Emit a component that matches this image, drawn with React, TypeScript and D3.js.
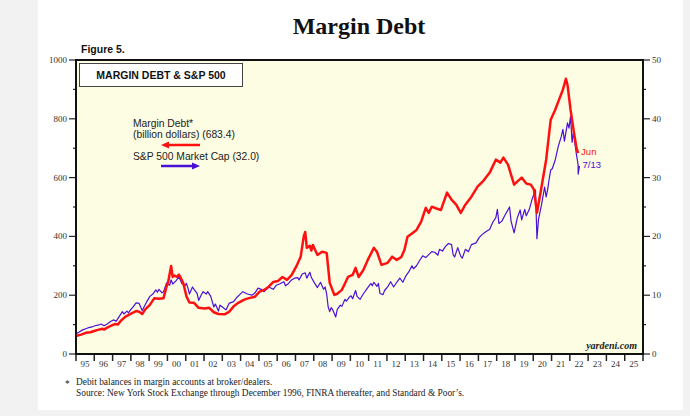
import { useEffect, useRef } from "react";
import * as d3 from "d3";

// Margin debt, billion dollars (left axis)
const marginDebt: [string, number][] = [
  ["1995-01", 62], ["1995-04", 66], ["1995-07", 72], ["1995-10", 74], ["1996-01", 79], ["1996-03", 82],
  ["1996-06", 86], ["1996-07", 83], ["1996-09", 90], ["1996-12", 97],
  ["1997-02", 102], ["1997-04", 100], ["1997-06", 113], ["1997-09", 127], ["1998-01", 138], ["1998-04", 146],
  ["1998-06", 144], ["1998-08", 136], ["1998-10", 152], ["1999-01", 167], ["1999-04", 190], ["1999-07", 188],
  ["1999-10", 190], ["1999-12", 230], ["2000-01", 244], ["2000-03", 299], ["2000-04", 262], ["2000-05", 267],
  ["2000-07", 262], ["2000-08", 270], ["2000-09", 262], ["2000-11", 240], ["2001-01", 196], ["2001-03", 175],
  ["2001-06", 174], ["2001-09", 157], ["2002-01", 155], ["2002-04", 157], ["2002-07", 142],
  ["2002-10", 136], ["2003-02", 135], ["2003-05", 143], ["2003-08", 162], ["2003-11", 174],
  ["2004-03", 185], ["2004-06", 190], ["2004-10", 195], ["2005-01", 212], ["2005-04", 218],
  ["2005-07", 229], ["2005-10", 245], ["2006-01", 248], ["2006-04", 262], ["2006-07", 252],
  ["2006-10", 268], ["2007-01", 297], ["2007-04", 331], ["2007-06", 400], ["2007-07", 415],
  ["2007-08", 361], ["2007-10", 368], ["2007-11", 352], ["2007-12", 371], ["2008-03", 337], ["2008-06", 348],
  ["2008-09", 344], ["2008-11", 242], ["2009-02", 201], ["2009-04", 205], ["2009-07", 218],
  ["2009-09", 240], ["2009-11", 262], ["2010-02", 269], ["2010-04", 293], ["2010-06", 262],
  ["2010-09", 285], ["2010-12", 320], ["2011-04", 361], ["2011-06", 348], ["2011-09", 303],
  ["2012-01", 310], ["2012-04", 331], ["2012-07", 320], ["2012-10", 330], ["2012-12", 354],
  ["2013-02", 399], ["2013-05", 410], ["2013-08", 422], ["2013-11", 450], ["2014-02", 497],
  ["2014-04", 480], ["2014-06", 501], ["2014-09", 495], ["2014-12", 490], ["2015-04", 549],
  ["2015-07", 525], ["2015-10", 508], ["2016-01", 480], ["2016-04", 508], ["2016-08", 535],
  ["2016-12", 569], ["2017-04", 590], ["2017-08", 617], ["2017-12", 661], ["2018-03", 651],
  ["2018-05", 668], ["2018-08", 644], ["2018-12", 576], ["2019-02", 586], ["2019-05", 600],
  ["2019-08", 580], ["2019-11", 576], ["2020-01", 559], ["2020-03", 480], ["2020-06", 569],
  ["2020-09", 661], ["2020-12", 797], ["2021-03", 831], ["2021-06", 872], ["2021-08", 899],
  ["2021-10", 936], ["2021-11", 916], ["2022-01", 831], ["2022-03", 763], ["2022-05", 700],
  ["2022-06", 683.4],
];

// S&P 500 market capitalization, trillion dollars (right axis)
const marketCap: [string, number][] = [
  ["1995-01", 3.5], ["1995-03", 3.8], ["1995-05", 4.1], ["1995-07", 4.3], ["1995-09", 4.5], ["1995-11", 4.6],
  ["1996-01", 4.8], ["1996-03", 4.9], ["1996-05", 5.1], ["1996-07", 4.8], ["1996-09", 5.1], ["1996-11", 5.5],
  ["1997-01", 5.8], ["1997-03", 5.6], ["1997-05", 6.4], ["1997-07", 7.2], ["1997-08", 6.8], ["1997-10", 7.3],
  ["1997-11", 7.0], ["1997-12", 7.4], ["1998-02", 8.0], ["1998-04", 8.7], ["1998-06", 8.6], ["1998-08", 7.4],
  ["1998-09", 7.9], ["1998-11", 8.9], ["1999-01", 9.8], ["1999-03", 10.2], ["1999-05", 10.9], ["1999-06", 10.5],
  ["1999-07", 11.0], ["1999-09", 10.4], ["1999-10", 10.6], ["1999-12", 12.1], ["2000-02", 11.7], ["2000-03", 12.6],
  ["2000-04", 11.9], ["2000-06", 12.4], ["2000-08", 13.1], ["2000-09", 12.6], ["2000-10", 12.0], ["2000-12", 11.6],
  ["2001-01", 12.0], ["2001-02", 11.2], ["2001-03", 10.2], ["2001-05", 11.4], ["2001-06", 11.0], ["2001-08", 10.3],
  ["2001-09", 9.1], ["2001-11", 10.2], ["2001-12", 10.6], ["2002-02", 10.2], ["2002-03", 10.6], ["2002-05", 9.8],
  ["2002-07", 8.0], ["2002-08", 8.5], ["2002-10", 7.3], ["2002-11", 8.3], ["2003-01", 7.9], ["2003-03", 7.5],
  ["2003-05", 8.6], ["2003-08", 8.9], ["2003-10", 9.6], ["2003-12", 10.1], ["2004-02", 10.6], ["2004-05", 10.2],
  ["2004-08", 10.0], ["2004-10", 10.4], ["2004-12", 11.2], ["2005-02", 11.0], ["2005-04", 10.6], ["2005-07", 11.4],
  ["2005-10", 11.0], ["2005-12", 11.7], ["2006-02", 11.9], ["2006-05", 12.3], ["2006-06", 11.6], ["2006-08", 12.0],
  ["2006-10", 12.6], ["2006-12", 12.9], ["2007-02", 13.0], ["2007-03", 12.6], ["2007-05", 13.6], ["2007-07", 13.8],
  ["2007-08", 12.9], ["2007-10", 13.9], ["2007-11", 13.0], ["2008-01", 12.1], ["2008-03", 11.3], ["2008-05", 12.2],
  ["2008-07", 11.0], ["2008-08", 11.4], ["2008-09", 10.2], ["2008-10", 8.0], ["2008-11", 7.2], ["2008-12", 7.9],
  ["2009-01", 7.5], ["2009-03", 6.3], ["2009-04", 7.6], ["2009-06", 8.3], ["2009-07", 8.1], ["2009-09", 9.3],
  ["2009-10", 9.0], ["2009-12", 9.7], ["2010-01", 9.9], ["2010-02", 9.4], ["2010-04", 10.8], ["2010-05", 9.8],
  ["2010-07", 9.3], ["2010-09", 10.2], ["2010-12", 11.3], ["2011-02", 12.0], ["2011-03", 11.6], ["2011-04", 12.2],
  ["2011-06", 11.5], ["2011-07", 12.0], ["2011-08", 10.3], ["2011-10", 10.1], ["2011-11", 10.8], ["2012-01", 11.4],
  ["2012-03", 12.3], ["2012-05", 11.4], ["2012-07", 12.2], ["2012-09", 12.9], ["2012-11", 12.2], ["2013-01", 13.3],
  ["2013-03", 14.0], ["2013-05", 15.0], ["2013-06", 14.5], ["2013-08", 15.0], ["2013-10", 15.9], ["2013-12", 16.7],
  ["2014-02", 16.4], ["2014-04", 16.9], ["2014-06", 17.4], ["2014-08", 17.3], ["2014-10", 16.8], ["2014-11", 17.8],
  ["2015-01", 17.5], ["2015-03", 18.3], ["2015-05", 18.8], ["2015-07", 18.6], ["2015-08", 16.9], ["2015-09", 16.5],
  ["2015-11", 18.1], ["2016-01", 16.6], ["2016-02", 16.3], ["2016-04", 17.8], ["2016-06", 17.4], ["2016-08", 18.6],
  ["2016-11", 18.9], ["2017-01", 19.8], ["2017-03", 20.3], ["2017-05", 20.7], ["2017-08", 21.2], ["2017-10", 22.4],
  ["2017-12", 23.2], ["2018-01", 24.6], ["2018-02", 22.2], ["2018-04", 22.6], ["2018-06", 23.6], ["2018-09", 25.0],
  ["2018-10", 22.6], ["2018-12", 20.6], ["2019-02", 23.1], ["2019-04", 24.5], ["2019-05", 22.8], ["2019-07", 24.6],
  ["2019-08", 23.5], ["2019-10", 24.6], ["2019-12", 26.5], ["2020-02", 27.9], ["2020-03", 19.6], ["2020-04", 22.9],
  ["2020-06", 25.4], ["2020-08", 28.4], ["2020-09", 26.7], ["2020-10", 28.0], ["2020-11", 29.8], ["2020-12", 31.3],
  ["2021-01", 31.5], ["2021-03", 33.0], ["2021-05", 35.3], ["2021-07", 37.0], ["2021-08", 38.2], ["2021-09", 36.2],
  ["2021-11", 39.3], ["2021-12", 38.4], ["2022-01", 40.4], ["2022-02", 36.0], ["2022-03", 37.8], ["2022-04", 35.6],
  ["2022-05", 33.8], ["2022-06", 32.2], ["2022-06-16", 30.6], ["2022-07-13", 32.0],
];

const leftTicks = [0, 200, 400, 600, 800, 1000];
const rightTicks = [0, 10, 20, 30, 40, 50];
const yearLabels = d3.range(1995, 2026);

const RED = "#ff1010";
const BLUE = "#4a10d8";

function parseDate(s: string): Date {
  const p = s.split("-").map(Number);
  return new Date(p[0], p[1] - 1, p[2] || 15);
}

function MarginChart() {
  const ref = useRef<HTMLDivElement>(null);

  useEffect(() => {
    const width = 690;
    const height = 416;
    const plot = { left: 76, right: 643, top: 60, bottom: 354 };

    const x = d3
      .scaleTime()
      .domain([new Date(1995, 0, 1), new Date(2026, 0, 1)])
      .range([plot.left, plot.right]);
    const yLeft = d3.scaleLinear([0, 1000], [plot.bottom, plot.top]);
    const yRight = d3.scaleLinear([0, 50], [plot.bottom, plot.top]);

    const serif = "'Liberation Serif', 'DejaVu Serif', serif";
    const sans = "'Liberation Sans', Arial, sans-serif";

    const svg = d3
      .select(ref.current)
      .append("svg")
      .attr("width", width)
      .attr("height", height)
      .style("display", "block");

    // page + card
    svg.append("rect").attr("width", width).attr("height", height).attr("fill", "#f2f2f2");
    svg.append("rect").attr("x", 38).attr("y", 0).attr("width", 645).attr("height", 410).attr("fill", "#ffffff");

    svg
      .append("text")
      .attr("x", 359)
      .attr("y", 34)
      .attr("text-anchor", "middle")
      .attr("font-family", serif)
      .attr("font-weight", "bold")
      .attr("font-size", 24)
      .attr("fill", "#111")
      .text("Margin Debt");

    svg
      .append("text")
      .attr("x", 81)
      .attr("y", 53)
      .attr("font-family", sans)
      .attr("font-weight", "bold")
      .attr("font-size", 10.5)
      .attr("fill", "#111")
      .text("Figure 5.");

    // plot background
    svg
      .append("rect")
      .attr("x", plot.left)
      .attr("y", plot.top)
      .attr("width", plot.right - plot.left)
      .attr("height", plot.bottom - plot.top)
      .attr("fill", "#fdfde3");

    // left axis ticks
    const leftG = svg.append("g");
    d3.range(0, 1001, 100).forEach((v) => {
      const major = v % 200 === 0;
      leftG
        .append("line")
        .attr("x1", plot.left - (major ? 7 : 3))
        .attr("x2", plot.left)
        .attr("y1", yLeft(v))
        .attr("y2", yLeft(v))
        .attr("stroke", "#222")
        .attr("stroke-width", 1.2);
    });
    leftG
      .selectAll("text")
      .data(leftTicks)
      .enter()
      .append("text")
      .attr("x", plot.left - 9)
      .attr("y", (d) => yLeft(d) + 3)
      .attr("text-anchor", "end")
      .attr("font-family", serif)
      .attr("font-size", 9)
      .attr("fill", "#333")
      .text((d) => d);

    // right axis ticks
    const rightG = svg.append("g");
    d3.range(0, 51, 5).forEach((v) => {
      const major = v % 10 === 0;
      rightG
        .append("line")
        .attr("x1", plot.right)
        .attr("x2", plot.right + (major ? 7 : 3))
        .attr("y1", yRight(v))
        .attr("y2", yRight(v))
        .attr("stroke", "#222")
        .attr("stroke-width", 1.2);
    });
    rightG
      .selectAll("text")
      .data(rightTicks)
      .enter()
      .append("text")
      .attr("x", plot.right + 9)
      .attr("y", (d) => yRight(d) + 3)
      .attr("font-family", serif)
      .attr("font-size", 9)
      .attr("fill", "#333")
      .text((d) => d);

    // bottom axis: ticks at year starts, labels mid-year
    const bottomG = svg.append("g");
    d3.range(1995, 2027).forEach((yr) => {
      bottomG
        .append("line")
        .attr("x1", x(new Date(yr, 0, 1)))
        .attr("x2", x(new Date(yr, 0, 1)))
        .attr("y1", plot.bottom)
        .attr("y2", plot.bottom + 7)
        .attr("stroke", "#222")
        .attr("stroke-width", 1.5);
    });
    bottomG
      .selectAll("text")
      .data(yearLabels)
      .enter()
      .append("text")
      .attr("x", (d) => x(new Date(d, 6, 1)))
      .attr("y", plot.bottom + 13)
      .attr("text-anchor", "middle")
      .attr("font-family", serif)
      .attr("font-size", 9)
      .attr("fill", "#333")
      .text((d) => String(d % 100).padStart(2, "0"));

    // frame
    svg
      .append("rect")
      .attr("x", plot.left)
      .attr("y", plot.top)
      .attr("width", plot.right - plot.left)
      .attr("height", plot.bottom - plot.top)
      .attr("fill", "none")
      .attr("stroke", "#111")
      .attr("stroke-width", 2);

    // series
    const capLine = d3
      .line<[string, number]>()
      .x((d) => x(parseDate(d[0])))
      .y((d) => yRight(d[1]));
    const debtLine = d3
      .line<[string, number]>()
      .x((d) => x(parseDate(d[0])))
      .y((d) => yLeft(d[1]));

    svg
      .append("path")
      .attr("d", capLine(marketCap))
      .attr("fill", "none")
      .attr("stroke", BLUE)
      .attr("stroke-width", 1.2)
      .attr("stroke-linejoin", "round");

    svg
      .append("path")
      .attr("d", debtLine(marginDebt))
      .attr("fill", "none")
      .attr("stroke", RED)
      .attr("stroke-width", 2.5)
      .attr("stroke-linejoin", "round");

    // end labels
    const lastDebt = marginDebt[marginDebt.length - 1];
    const lastCap = marketCap[marketCap.length - 1];
    svg
      .append("text")
      .attr("x", x(parseDate(lastDebt[0])) + 3)
      .attr("y", yLeft(lastDebt[1]) + 2)
      .attr("font-family", sans)
      .attr("font-size", 9.5)
      .attr("fill", RED)
      .text("Jun");
    svg
      .append("text")
      .attr("x", x(parseDate(lastCap[0])) + 3)
      .attr("y", yRight(lastCap[1]) + 2)
      .attr("font-family", sans)
      .attr("font-size", 9.5)
      .attr("fill", BLUE)
      .text("7/13");

    // title box
    svg
      .append("rect")
      .attr("x", 79.5)
      .attr("y", 63.5)
      .attr("width", 163)
      .attr("height", 23)
      .attr("fill", "#fff")
      .attr("stroke", "#444")
      .attr("stroke-width", 1);
    svg
      .append("text")
      .attr("x", 161)
      .attr("y", 79)
      .attr("text-anchor", "middle")
      .attr("font-family", sans)
      .attr("font-weight", "bold")
      .attr("font-size", 10.5)
      .attr("fill", "#111")
      .text("MARGIN DEBT & S&P 500");

    // legend
    const legend = svg
      .append("g")
      .attr("font-family", sans)
      .attr("font-size", 10.3)
      .attr("fill", "#222");
    legend.append("text").attr("x", 133).attr("y", 127).text("Margin Debt*");
    legend
      .append("text")
      .attr("x", 133)
      .attr("y", 137.5)
      .text(`(billion dollars) (${lastDebt[1].toFixed(1)})`);
    legend
      .append("text")
      .attr("x", 133)
      .attr("y", 160)
      .text(`S&P 500 Market Cap (${lastCap[1].toFixed(1)})`);

    const arrow = (y: number, color: string, left: boolean) => {
      const x0 = 161;
      const x1 = 200;
      legend
        .append("line")
        .attr("x1", left ? x0 + 6 : x0)
        .attr("x2", left ? x1 : x1 - 6)
        .attr("y1", y)
        .attr("y2", y)
        .attr("stroke", color)
        .attr("stroke-width", 2.5);
      const tip = left ? x0 : x1;
      const back = left ? x0 + 8 : x1 - 8;
      legend
        .append("path")
        .attr("d", `M${tip},${y} L${back},${y - 3.5} L${back},${y + 3.5} Z`)
        .attr("fill", color);
    };
    arrow(145, RED, true);
    arrow(166, BLUE, false);

    svg
      .append("text")
      .attr("x", 637)
      .attr("y", 349)
      .attr("text-anchor", "end")
      .attr("font-family", serif)
      .attr("font-style", "italic")
      .attr("font-weight", "bold")
      .attr("font-size", 10)
      .attr("fill", "#222")
      .text("yardeni.com");

    // footnotes
    const notes = svg.append("g").attr("font-family", serif).attr("font-size", 9.4).attr("fill", "#222");
    notes.append("text").attr("x", 65).attr("y", 387).text("*");
    notes.append("text").attr("x", 76).attr("y", 385).text("Debit balances in margin accounts at broker/dealers.");
    notes
      .append("text")
      .attr("x", 76)
      .attr("y", 396)
      .text("Source: New York Stock Exchange through December 1996, FINRA thereafter, and Standard & Poor\u2019s.");

    return () => {
      d3.select(ref.current).select("svg").remove();
    };
  }, []);

  return <div ref={ref}></div>;
}

export default function App() {
  return (
    <div style={{ position: "fixed", left: 0, top: 0 }}>
      <MarginChart />
    </div>
  );
}
